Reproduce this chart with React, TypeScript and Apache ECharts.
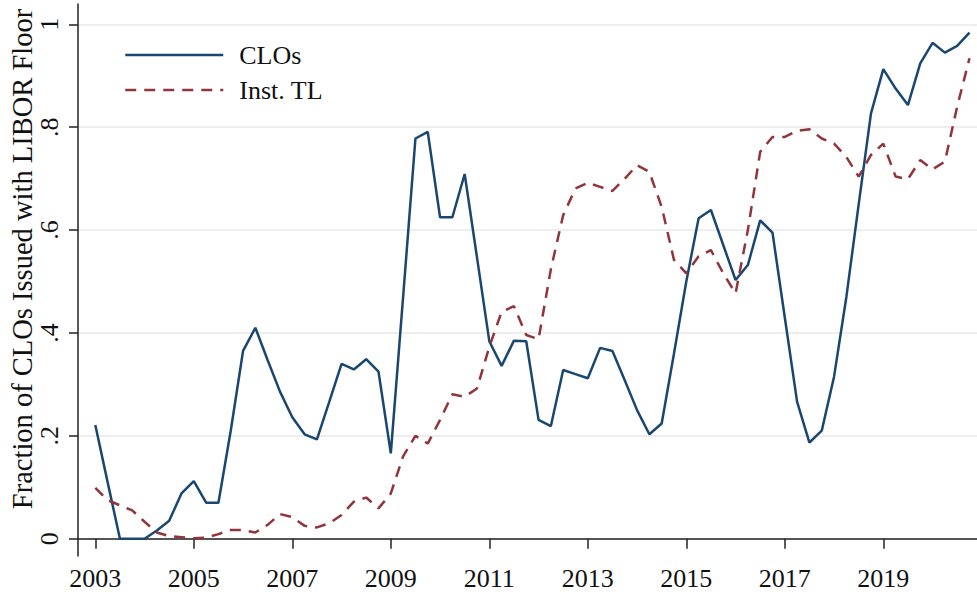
import React, { useEffect, useRef } from "react";
import * as echarts from "echarts";

const startYear = 2003;
const quartersPerYear = 4;

// Quarterly shares, 2003Q1 .. 2020Q4
const cloShare = [
  0.221, 0.11, 0, 0,
  0, 0.016, 0.035, 0.088,
  0.112, 0.07, 0.07, 0.21,
  0.365, 0.41, 0.347, 0.286,
  0.236, 0.203, 0.193, 0.266,
  0.34, 0.329, 0.349, 0.325,
  0.166, 0.47, 0.778, 0.791,
  0.625, 0.625, 0.709, 0.547,
  0.384, 0.336, 0.385, 0.384,
  0.231, 0.219, 0.328, 0.32,
  0.312, 0.371, 0.365, 0.308,
  0.25, 0.203, 0.224, 0.36,
  0.5, 0.623, 0.639, 0.571,
  0.503, 0.532, 0.619, 0.595,
  0.43, 0.266, 0.187, 0.21,
  0.315, 0.47, 0.65, 0.827,
  0.913, 0.875, 0.843, 0.924,
  0.964, 0.945, 0.958, 0.984,
];

const instTLShare = [
  0.099, 0.075, 0.065, 0.055,
  0.033, 0.012, 0.005, 0.003,
  0.001, 0.002, 0.009, 0.017,
  0.017, 0.012, 0.027, 0.048,
  0.042, 0.025, 0.022, 0.03,
  0.046, 0.072, 0.08, 0.059,
  0.088, 0.16, 0.2, 0.185,
  0.231, 0.281, 0.276, 0.292,
  0.373, 0.441, 0.452, 0.396,
  0.388, 0.524, 0.629, 0.681,
  0.692, 0.684, 0.676, 0.7,
  0.726, 0.713, 0.645, 0.542,
  0.516, 0.549, 0.561, 0.516,
  0.477, 0.6, 0.752, 0.781,
  0.781, 0.793, 0.796, 0.778,
  0.768, 0.742, 0.704, 0.746,
  0.768, 0.704, 0.699, 0.736,
  0.718, 0.733, 0.84, 0.934,
];

const xTickYears = [2003, 2005, 2007, 2009, 2011, 2013, 2015, 2017, 2019];
const yTickValues = [0, 0.2, 0.4, 0.6, 0.8, 1];
const yTickLabels = ["0", ".2", ".4", ".6", ".8", "1"];
const seriesNames = ["CLOs", "Inst. TL"];
const yTitle = "Fraction of CLOs Issued with LIBOR Floor";

const quarterDates = cloShare.map((_, i) => startYear + i / quartersPerYear);

const X_MIN = 2002.6487;
const X_MAX = 2020.9025;
const Y_MIN = -0.0336;
const Y_MAX = 1.0395;

const FONT = '"Liberation Serif", "Times New Roman", serif';
const NAVY = "#1a476f";
const MAROON = "#90353b";
const AXIS = "#222";

export default function App() {
  const ref = useRef<HTMLDivElement>(null);
  useEffect(() => {
    if (!ref.current) return;
    const chart = echarts.init(ref.current, null, { renderer: "svg" });
    const option: any = {
      animation: false,
      backgroundColor: "#ffffff",
      grid: [
        { left: 78, right: 0, top: 24.3, height: 514.4, show: false },
        { left: 78, right: 0, top: 4, bottom: 47, show: false },
      ],
      xAxis: [
        { gridIndex: 0, type: "value", min: X_MIN, max: X_MAX, show: false },
        {
          gridIndex: 1,
          type: "value",
          min: X_MIN,
          max: X_MAX,
          axisLine: { show: true, lineStyle: { color: AXIS, width: 1.5 } },
          axisTick: { show: true, customValues: xTickYears, length: 10, lineStyle: { color: AXIS, width: 1.5 } },
          axisLabel: {
            customValues: xTickYears,
            fontFamily: FONT,
            fontSize: 26,
            color: "#111",
            margin: 9,
            formatter: (v: number) => String(Math.round(v)),
          },
          splitLine: { show: false },
        },
      ],
      yAxis: [
        {
          gridIndex: 0,
          type: "value",
          min: 0,
          max: 1,
          interval: 0.2,
          axisLine: { show: false },
          axisTick: { show: false },
          axisLabel: { show: false },
          splitLine: { show: true, lineStyle: { color: "#e9e9e9", width: 1.5 } },
        },
        {
          gridIndex: 1,
          type: "value",
          min: Y_MIN,
          max: Y_MAX,
          axisLine: { show: true, lineStyle: { color: AXIS, width: 1.5 } },
          axisTick: { show: true, customValues: yTickValues, length: 9, lineStyle: { color: AXIS, width: 1.5 } },
          axisLabel: {
            customValues: yTickValues,
            rotate: 90,
            fontFamily: FONT,
            fontSize: 26,
            color: "#111",
            margin: 16,
            formatter: (v: number) => {
              const i = yTickValues.findIndex((t) => Math.abs(t - v) < 1e-6);
              return i >= 0 ? yTickLabels[i] : "";
            },
          },
          splitLine: { show: false },
        },
      ],
      legend: {
        orient: "vertical",
        left: 119,
        top: 37,
        itemWidth: 98,
        itemHeight: 14,
        itemGap: 9,
        data: seriesNames,
        itemStyle: { opacity: 0 },
        lineStyle: { width: 2.5 },
        textStyle: { fontFamily: FONT, fontSize: 26, color: "#111", padding: [0, 0, 0, 11] },
      },
      graphic: [
        {
          type: "text",
          x: 22,
          y: 259,
          rotation: Math.PI / 2,
          style: {
            text: yTitle,
            font: `28.5px ${FONT}`,
            fill: "#111",
            align: "center",
            verticalAlign: "middle",
            textAlign: "center",
            textVerticalAlign: "middle",
          },
        },
      ],
      series: [
        {
          name: seriesNames[0],
          type: "line",
          xAxisIndex: 1,
          yAxisIndex: 1,
          symbol: "none",
          clip: false,
          data: quarterDates.map((d, i) => [d, cloShare[i]]),
          lineStyle: { color: NAVY, width: 2.5 },
          itemStyle: { color: NAVY },
        },
        {
          name: seriesNames[1],
          type: "line",
          xAxisIndex: 1,
          yAxisIndex: 1,
          symbol: "none",
          clip: false,
          data: quarterDates.map((d, i) => [d, instTLShare[i]]),
          lineStyle: { color: MAROON, width: 2.5, type: [11, 8] },
          itemStyle: { color: MAROON },
        },
      ],
    };
    chart.setOption(option);
    return () => chart.dispose();
  }, []);
  return (
    <div
      ref={ref}
      style={{ position: "absolute", left: 0, top: 0, width: 977, height: 603, background: "#fff" }}
    />
  );
}
